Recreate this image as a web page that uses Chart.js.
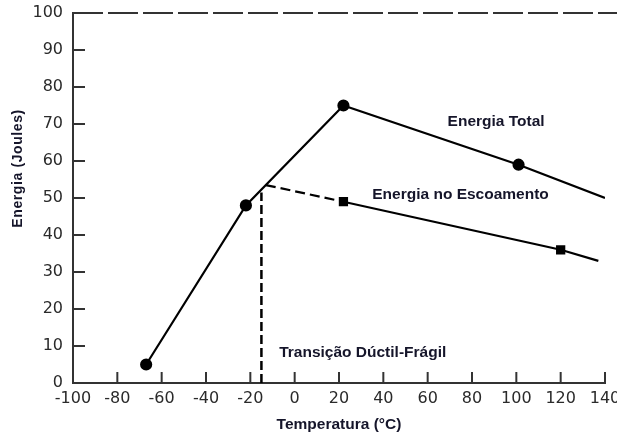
<!DOCTYPE html>
<html>
<head>
<meta charset="utf-8">
<script src="https://cdn.jsdelivr.net/npm/chart.js@4/dist/chart.umd.min.js"></script>
<style>
  html, body { margin: 0; padding: 0; background: #fff; }
  #wrap { width: 617px; height: 436px; position: relative; }
</style>
</head>
<body>
<div id="wrap"><canvas id="c" width="617" height="436"></canvas></div>
<script>
// ---- data ----
const totalT = [-67, -22, 22, 101, 140];
const totalE = [5, 48, 75, 59, 50];
const totalMarked = [true, true, true, true, false];

const yieldDashT = [-13, 22];
const yieldDashE = [53.5, 49];

const yieldT = [22, 120, 137];
const yieldE = [49, 36, 33];
const yieldMarked = [true, true, false];

const transitionT = [-15, -15];
const transitionE = [0, 51.5];

const xTicks = [-100, -80, -60, -40, -20, 0, 20, 40, 60, 80, 100, 120, 140];
const yTicks = [0, 10, 20, 30, 40, 50, 60, 70, 80, 90, 100];

const annotations = [
  { text: 'Energia Total', x: 69, y: 70.5 },
  { text: 'Energia no Escoamento', x: 35, y: 50.8 },
  { text: 'Transição Dúctil-Frágil', x: -7, y: 8.1 }
];
const xTitle = 'Temperatura (°C)';
const yTitle = 'Energia (Joules)';

const pts = (xs, ys) => xs.map((x, i) => ({ x, y: ys[i] }));

const inwardTicks = {
  id: 'inwardTicks',
  afterDraw(chart) {
    const ctx = chart.ctx;
    const xs = chart.scales.x, ys = chart.scales.y;
    ctx.save();
    ctx.strokeStyle = '#333';
    ctx.lineWidth = 2;
    const y0 = ys.getPixelForValue(0);
    xTicks.forEach(v => {
      if (v === xTicks[0]) return;
      const px = xs.getPixelForValue(v);
      ctx.beginPath(); ctx.moveTo(px, y0); ctx.lineTo(px, y0 - 11); ctx.stroke();
    });
    const x0 = xs.getPixelForValue(-100);
    yTicks.forEach(v => {
      if (v === 0 || v === 100) return;
      const py = ys.getPixelForValue(v);
      ctx.beginPath(); ctx.moveTo(x0, py); ctx.lineTo(x0 + 12, py); ctx.stroke();
    });
    // annotations
    ctx.fillStyle = '#15152a';
    ctx.font = 'bold 15.5px "Liberation Sans", Arial, sans-serif';
    ctx.textBaseline = 'middle';
    ctx.textAlign = 'left';
    annotations.forEach(a => {
      ctx.fillText(a.text, xs.getPixelForValue(a.x), ys.getPixelForValue(a.y));
    });
    // y title
    ctx.save();
    ctx.translate(18, ys.getPixelForValue(58));
    ctx.rotate(-Math.PI / 2);
    ctx.textAlign = 'center';
    ctx.font = 'bold 14px "Liberation Sans", Arial, sans-serif';
    ctx.letterSpacing = '0.6px';
    ctx.fillText(yTitle, 0, 0);
    ctx.restore();
    ctx.restore();
  }
};

const lineDs = (data, extra) => Object.assign({
  data, showLine: true, borderColor: '#000', backgroundColor: '#000',
  borderWidth: 2.2, pointRadius: 0, pointHoverRadius: 0, tension: 0, fill: false
}, extra);

new Chart(document.getElementById('c'), {
  type: 'scatter',
  data: {
    datasets: [
      lineDs(pts(totalT, totalE), {
        label: 'Energia Total',
        pointRadius: totalMarked.map(m => m ? 5 : 0),
        pointStyle: 'circle'
      }),
      lineDs(pts(yieldDashT, yieldDashE), { label: 'dash', borderDash: [10, 5] }),
      lineDs(pts(yieldT, yieldE), {
        label: 'Energia no Escoamento',
        pointRadius: yieldMarked.map(m => m ? 5 : 0),
        pointStyle: 'rect'
      }),
      lineDs(pts(transitionT, transitionE), { label: 'trans', borderDash: [9, 4], borderWidth: 2.5 }),
      lineDs([{ x: xTicks[0], y: 100 }, { x: 146, y: 100 }], {
        label: 'top', borderDash: [30, 5], borderColor: '#333', clip: false
      })
    ]
  },
  options: {
    responsive: false,
    animation: false,
    events: [],
    layout: { padding: { left: 0, top: 13, right: 12, bottom: 0 } },
    plugins: { legend: { display: false }, tooltip: { enabled: false } },
    scales: {
      x: {
        type: 'linear', min: -100, max: 140,
        afterBuildTicks: s => { s.ticks = xTicks.map(v => ({ value: v })); },
        afterFit: s => { s.height = 53; s.paddingLeft = 0; s.paddingRight = 0; },
        grid: { display: false, drawTicks: false },
        border: { display: true, color: '#333', width: 2 },
        ticks: {
          autoSkip: false, maxRotation: 0, padding: 6, color: '#2a2a2a',
          font: { family: '"DejaVu Sans", sans-serif', size: 16 }
        },
        title: {
          display: true, text: xTitle, color: '#15152a',
          font: { family: '"Liberation Sans", Arial, sans-serif', size: 15.5, weight: 'bold' },
          padding: { top: 0, bottom: 2 }
        }
      },
      y: {
        type: 'linear', min: 0, max: 100,
        afterBuildTicks: s => { s.ticks = yTicks.map(v => ({ value: v })); },
        afterFit: s => { s.width = 73; s.paddingTop = 0; s.paddingBottom = 0; },
        grid: { display: false, drawTicks: false },
        border: { display: true, color: '#333', width: 2 },
        ticks: {
          padding: 10, color: '#2a2a2a',
          font: { family: '"DejaVu Sans", sans-serif', size: 16 }
        }
      }
    }
  },
  plugins: [inwardTicks]
});
</script>
</body>
</html>
